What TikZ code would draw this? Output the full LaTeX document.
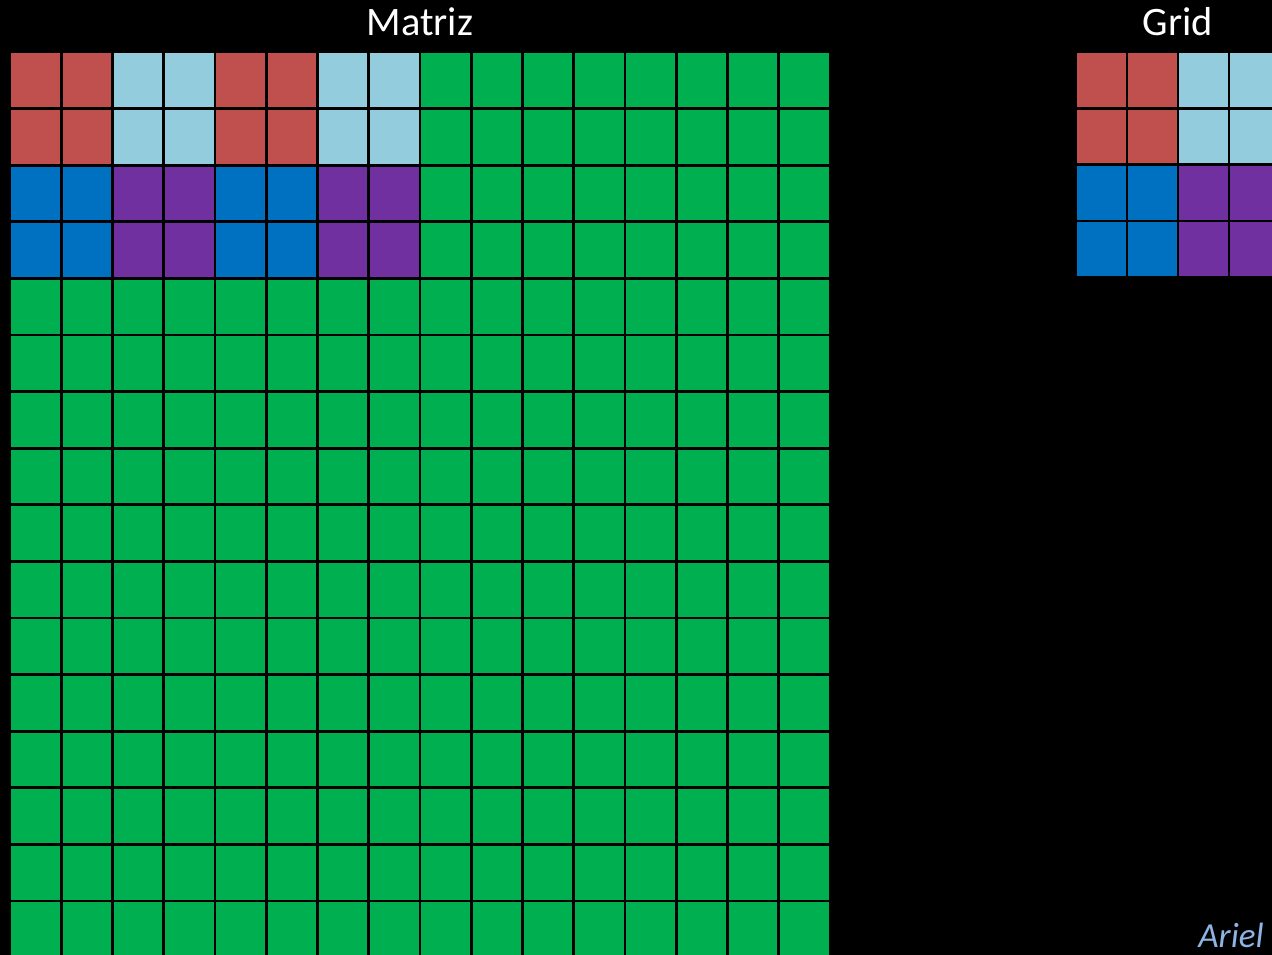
\documentclass[tikz,border=0pt]{standalone}
\usepackage{fontspec}
\setmainfont{Carlito}
\definecolor{cellred}{HTML}{C0504D}
\definecolor{cellsky}{HTML}{93CDDD}
\definecolor{cellblue}{HTML}{0070C0}
\definecolor{cellpurple}{HTML}{7030A0}
\definecolor{cellgreen}{HTML}{00B050}
\definecolor{signblue}{HTML}{8DB4E2}
\tikzset{
  title/.style={text=white,font=\fontsize{23}{27}\selectfont,anchor=base},
  gridline/.style={black,line width=0.055cm},
}

\begin{document}
\begin{tikzpicture}[x=0.02cm,y=-0.02cm]
  \useasboundingbox (0,0) rectangle (1272,955);
  \clip (0,0) rectangle (1272,955);
  \fill[black] (0,0) rectangle (1272,955);
  % Matriz: 16x16, cell 51.25 x 56.6
  \fill[cellgreen] (10,52) rectangle (830,958);
  \foreach \c/\r/\col in {0/0/cellred,2/0/cellsky,4/0/cellred,6/0/cellsky,
                          0/2/cellblue,2/2/cellpurple,4/2/cellblue,6/2/cellpurple}{
    \fill[\col] (10+\c*51.25,52+\r*56.6) rectangle +(102.5,113.2);}
  \foreach \i in {0,...,16}{
    \draw[gridline] (10+\i*51.25,52) -- (10+\i*51.25,958);
    \draw[gridline] (10,52+\i*56.6) -- (830,52+\i*56.6);}
  % Grid: 4x4, cell 51 x 56.3
  \foreach \c/\r/\col in {0/0/cellred,2/0/cellsky,0/2/cellblue,2/2/cellpurple}{
    \fill[\col] (1076+\c*51,52+\r*56.3) rectangle +(102,112.6);}
  \foreach \i in {0,...,4}{
    \draw[gridline] (1076+\i*51,52) -- (1076+\i*51,277.2);
    \draw[gridline] (1076,52+\i*56.3) -- (1280,52+\i*56.3);}
  \node[title] (matriz) at (420,36) {Matriz};
  \node[title] (grid) at (1178,36) {Grid};
  \node[text=signblue,font=\fontsize{20}{24}\selectfont\itshape,anchor=base east,inner sep=0pt]
    (ariel) at (1264,948) {Ariel};
\end{tikzpicture}
\end{document}
